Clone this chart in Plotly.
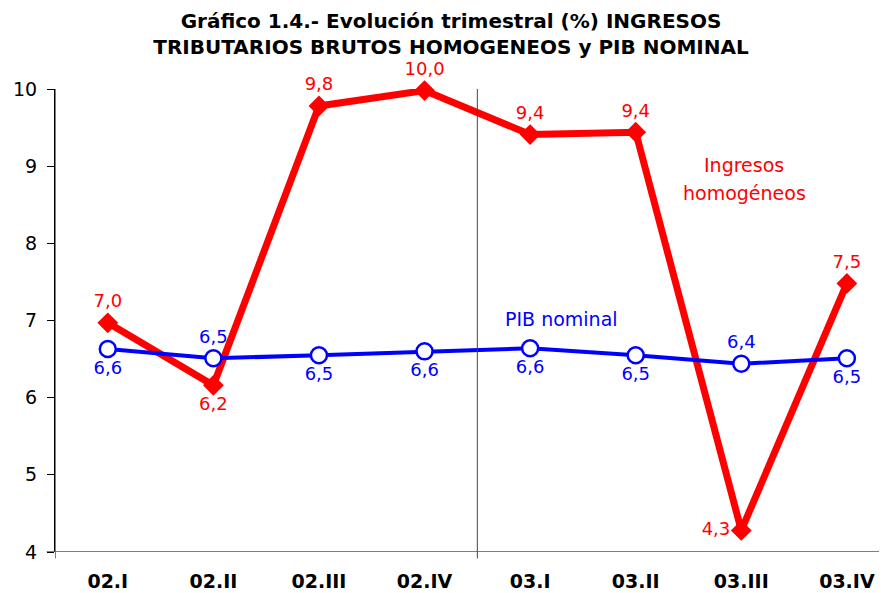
import plotly.graph_objects as go

categories = ["02.I", "02.II", "02.III", "02.IV", "03.I", "03.II", "03.III", "03.IV"]
ingresos = [6.97, 6.16, 9.78, 9.98, 9.41, 9.44, 4.28, 7.48]
ingresos_labels = ["7,0", "6,2", "9,8", "10,0", "9,4", "9,4", "4,3", "7,5"]
ingresos_pos = ["top center", "bottom center", "top center", "top center",
                "top center", "top center", "middle left", "top center"]
pib = [6.63, 6.51, 6.55, 6.60, 6.64, 6.55, 6.44, 6.51]
pib_labels = ["6,6", "6,5", "6,5", "6,6", "6,6", "6,5", "6,4", "6,5"]
pib_pos = ["bottom center", "top center", "bottom center", "bottom center",
           "bottom center", "bottom center", "top center", "bottom center"]
y_ticks = [4, 5, 6, 7, 8, 9, 10]

xidx = list(range(len(categories)))
FONT = "DejaVu Sans"

fig = go.Figure()
fig.add_trace(go.Scatter(
    x=xidx, y=ingresos, mode="lines+markers+text",
    line=dict(color="#ff0000", width=7),
    marker=dict(symbol="diamond", size=16, color="#ff0000"),
    text=ingresos_labels, textposition=ingresos_pos,
    textfont=dict(color="#ff0000", size=18, family=FONT),
    cliponaxis=False, showlegend=False))
fig.add_trace(go.Scatter(
    x=xidx, y=pib, mode="lines+markers+text",
    line=dict(color="#0000ff", width=4),
    marker=dict(symbol="circle", size=16, color="white", line=dict(color="#0000ff", width=2.5)),
    text=pib_labels, textposition=pib_pos,
    textfont=dict(color="#0000ff", size=18, family=FONT),
    cliponaxis=False, showlegend=False))

# vertical separator between years
fig.add_shape(type="line", xref="x", yref="paper", x0=3.5, x1=3.5, y0=-0.014, y1=1,
              line=dict(color="#444444", width=1))
# y axis line extension & x axis line
fig.add_shape(type="line", xref="x", yref="paper", x0=-0.5, x1=-0.5, y0=-0.014, y1=1,
              line=dict(color="black", width=1))
fig.add_shape(type="line", xref="paper", yref="y", x0=-0.01, x1=1, y0=4, y1=4,
              line=dict(color="#555555", width=1.5))

fig.add_annotation(x=4.3, y=7.02, xref="x", yref="y", text="PIB nominal", showarrow=False,
                   font=dict(color="#0000ff", size=19, family=FONT))
fig.add_annotation(x=6.03, y=9.01, xref="x", yref="y", text="Ingresos",
                   showarrow=False, font=dict(color="#ff0000", size=19, family=FONT))
fig.add_annotation(x=6.03, y=8.65, xref="x", yref="y", text="homogéneos",
                   showarrow=False, font=dict(color="#ff0000", size=19, family=FONT))

fig.update_layout(
    width=879, height=585,
    margin=dict(l=47, r=0, t=81, b=41),
    paper_bgcolor="white", plot_bgcolor="white",
    title=dict(text="<b>Gráfico 1.4.- Evolución trimestral (%) INGRESOS<br>TRIBUTARIOS BRUTOS HOMOGENEOS y PIB NOMINAL</b>",
               x=443 / 879, xanchor="center", y=0.966, yanchor="top",
               font=dict(size=20, family=FONT, color="black")),
    xaxis=dict(range=[-0.5, 7.38], tickvals=xidx, ticktext=[f"<b>{c}</b>" for c in categories],
               showgrid=False, zeroline=False, showline=False, ticks="",
               tickfont=dict(size=19, family=FONT, color="black"), ticklabelstandoff=16),
    yaxis=dict(range=[4, 10], tickvals=y_ticks, showgrid=False, zeroline=False,
               showline=True, linecolor="black", linewidth=1, ticks="outside", ticklen=7,
               tickcolor="black", tickfont=dict(size=19, family=FONT, color="black"),
               ticklabelstandoff=6),
)

fig.write_html("out.html")
